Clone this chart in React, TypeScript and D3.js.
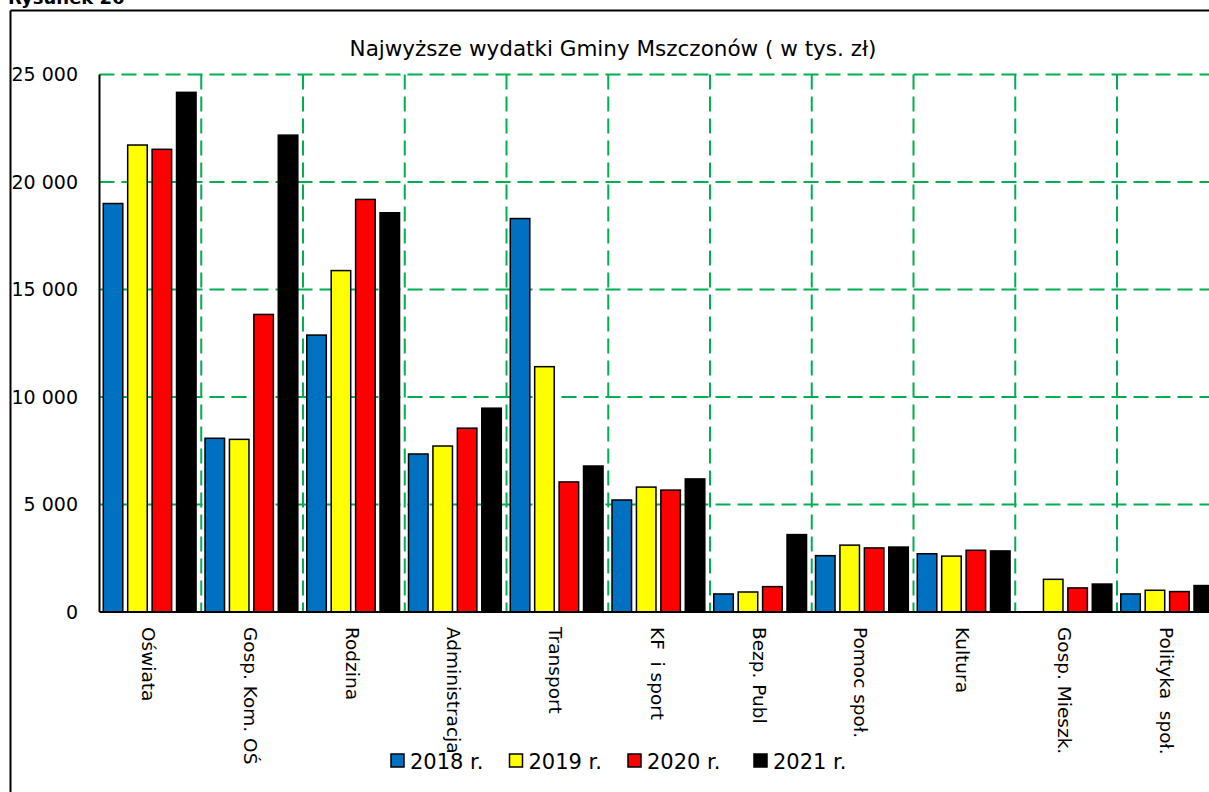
import React from "react";
import * as d3 from "d3";

const categories = [
  "Oświata",
  "Gosp. Kom. OŚ",
  "Rodzina",
  "Administracja",
  "Transport",
  "KF  i sport",
  "Bezp. Publ",
  "Pomoc społ.",
  "Kultura",
  "Gosp. Mieszk.",
  "Polityka  społ.",
];
const seriesNames = ["2018 r.", "2019 r.", "2020 r.", "2021 r."];
const seriesColors = ["#0070C0", "#FFFF00", "#FF0000", "#000000"];
const values2018 = [19000, 8080, 12880, 7350, 18300, 5210, 840, 2620, 2710, 0, 840];
const values2019 = [21720, 8030, 15880, 7720, 11410, 5810, 930, 3110, 2600, 1520, 1010];
const values2020 = [21520, 13840, 19190, 8550, 6050, 5670, 1180, 2980, 2870, 1120, 950];
const values2021 = [24170, 22180, 18570, 9480, 6790, 6190, 3600, 3020, 2840, 1300, 1230];
const seriesValues = [values2018, values2019, values2020, values2021];
const yTicks = [0, 5000, 10000, 15000, 20000, 25000];
const title = "Najwyższe wydatki Gminy Mszczonów ( w tys. zł)";
const figureLabel = "Rysunek 26";

const W = 1209;
const H = 792;
const FONT = "'DejaVu Sans', Verdana, sans-serif";

export default function App() {
  const plotLeft = 99.5;
  const catW = 101.75;
  const x0 = d3
    .scaleBand<string>()
    .domain(categories)
    .range([plotLeft, plotLeft + catW * categories.length])
    .paddingInner(0)
    .paddingOuter(0);
  const x1 = d3
    .scaleBand<string>()
    .domain(seriesNames)
    .range([catW * 0.037, catW * 0.949])
    .paddingInner(0.2)
    .paddingOuter(0);
  const y = d3.scaleLinear().domain([0, 25000]).range([612, 74.5]);
  const loc = d3.formatLocale({ decimal: ",", thousands: " ", grouping: [3], currency: ["", ""] });
  const fmt = loc.format(",");
  const plotRight = x0.range()[1];
  const y0 = y(0);

  return (
    <svg
      width={W}
      height={H}
      style={{ position: "absolute", left: 0, top: 0, background: "#fff" }}
      fontFamily={FONT}
    >
      <rect x={0} y={0} width={W} height={H} fill="#fff" />
      <text x={8} y={4} fontSize={18} fontWeight="bold" fill="#000">
        {figureLabel}
      </text>
      {/* frame */}
      <line x1={10.5} x2={W + 5} y1={10.5} y2={10.5} stroke="#000" strokeWidth={2} />
      <line x1={10.5} x2={10.5} y1={10.5} y2={H + 5} stroke="#000" strokeWidth={2} />

      <text x={613} y={56} fontSize={21.5} textAnchor="middle" fill="#000">
        {title}
      </text>

      {/* horizontal gridlines */}
      {yTicks
        .filter((t) => t > 0)
        .map((t) => (
          <line
            key={"h" + t}
            x1={plotLeft}
            x2={plotRight}
            y1={y(t)}
            y2={y(t)}
            stroke="#00B050"
            strokeWidth={2}
            strokeDasharray="15,7"
          />
        ))}
      {/* vertical gridlines */}
      {categories.map((c) => (
        <line
          key={"v" + c}
          x1={(x0(c) as number) + catW}
          x2={(x0(c) as number) + catW}
          y1={y(25000)}
          y2={y0}
          stroke="#00B050"
          strokeWidth={2}
          strokeDasharray="15,7"
        />
      ))}

      {/* bars */}
      {categories.map((c, ci) => (
        <g key={"g" + c} transform={`translate(${x0(c)},0)`}>
          {seriesNames.map((s, si) => {
            const v = seriesValues[si][ci];
            if (!v) return null;
            return (
              <rect
                key={s}
                x={x1(s)}
                y={y(v)}
                width={x1.bandwidth()}
                height={y0 - y(v)}
                fill={seriesColors[si]}
                stroke="#000"
                strokeWidth={1.5}
              />
            );
          })}
        </g>
      ))}

      {/* axes */}
      <line x1={plotLeft} x2={plotLeft} y1={y(25000)} y2={y0} stroke="#000" strokeWidth={2} />
      <line x1={plotLeft} x2={plotRight} y1={y0} y2={y0} stroke="#000" strokeWidth={2} />

      {/* y tick labels */}
      {yTicks.map((t) => (
        <text key={"yt" + t} x={78} y={y(t)} dy="0.36em" fontSize={19} textAnchor="end" fill="#000">
          {fmt(t)}
        </text>
      ))}

      {/* category labels */}
      {categories.map((c) => {
        const cx = (x0(c) as number) + catW / 2;
        return (
          <text
            key={"xl" + c}
            transform={`translate(${cx - 1.5},627) rotate(90)`}
            dy="0.36em"
            fontSize={18.5}
            fill="#000"
            style={{ whiteSpace: "pre" }}
          >
            {c}
          </text>
        );
      })}

      {/* legend */}
      {seriesNames.map((s, i) => {
        const lx = [391, 509.5, 628, 754][i];
        return (
          <g key={"lg" + s} transform={`translate(${lx},754)`}>
            <rect
              x={0}
              y={0}
              width={13}
              height={13}
              fill={seriesColors[i]}
              stroke="#000"
              strokeWidth={1.5}
            />
            <text x={19} y={7} dy="0.36em" fontSize={21} fill="#000">
              {s}
            </text>
          </g>
        );
      })}
    </svg>
  );
}
